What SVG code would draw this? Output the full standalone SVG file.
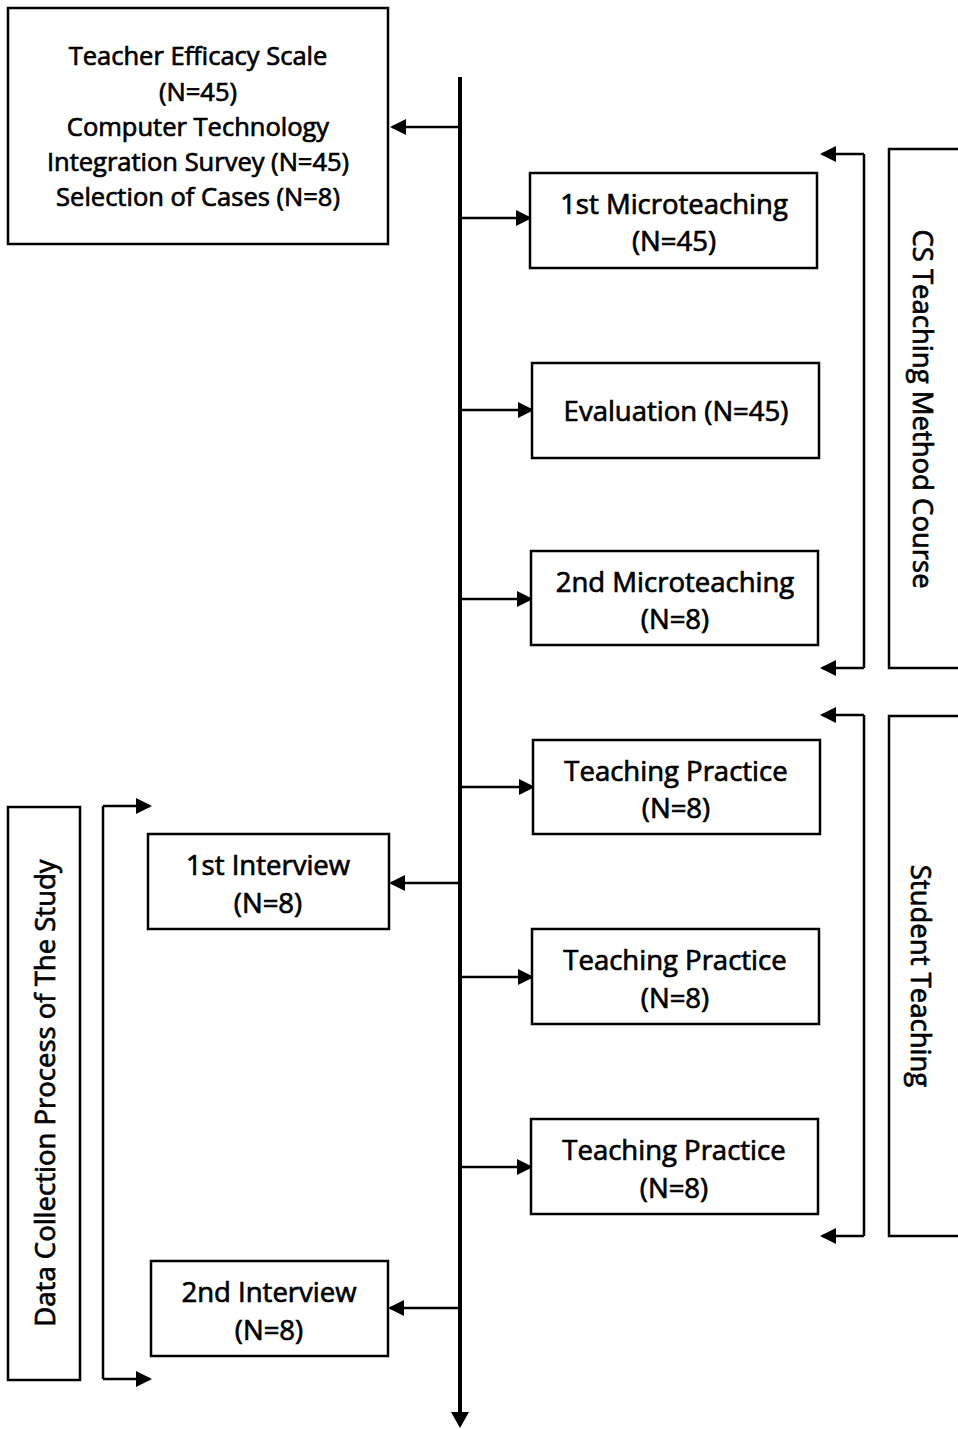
<svg xmlns="http://www.w3.org/2000/svg" width="958" height="1429" viewBox="0 0 958 1429">
<style>
.box{fill:#fff;stroke:#000;stroke-width:2.5}
.ln{fill:none;stroke:#000;stroke-width:2.5}
.main{fill:none;stroke:#000;stroke-width:4}
text{font-family:"Open Sans","Liberation Sans",sans-serif;font-size:27.5px;fill:#000;text-anchor:middle;stroke:#000;stroke-width:0.7}
.sm{font-size:25.5px}
</style>
<defs>
<marker id="ahb" markerWidth="16" markerHeight="16" refX="14" refY="8" orient="auto" markerUnits="userSpaceOnUse" viewBox="0 0 16 16">
<path d="M0,0 L16,8 L0,16 z" fill="#000"/>
</marker>
</defs>
<g id="connectors">
<line class="main" x1="460" y1="77" x2="460" y2="1412"/>
<path d="M451,1412 L469,1412 L460,1428 z" fill="#000"/>
<line class="ln" x1="460" y1="127" x2="392" y2="127" marker-end="url(#ahb)"/>
<line class="ln" x1="460" y1="218" x2="530" y2="218" marker-end="url(#ahb)"/>
<line class="ln" x1="460" y1="410" x2="532" y2="410" marker-end="url(#ahb)"/>
<line class="ln" x1="460" y1="599" x2="531" y2="599" marker-end="url(#ahb)"/>
<line class="ln" x1="460" y1="787" x2="533" y2="787" marker-end="url(#ahb)"/>
<line class="ln" x1="460" y1="977" x2="532" y2="977" marker-end="url(#ahb)"/>
<line class="ln" x1="460" y1="1167" x2="531" y2="1167" marker-end="url(#ahb)"/>
<line class="ln" x1="460" y1="883" x2="391" y2="883" marker-end="url(#ahb)"/>
<line class="ln" x1="460" y1="1308" x2="390" y2="1308" marker-end="url(#ahb)"/>
<path class="ln" d="M864,154 L864,668"/>
<line class="ln" x1="864" y1="154" x2="822" y2="154" marker-end="url(#ahb)"/>
<line class="ln" x1="864" y1="668" x2="822" y2="668" marker-end="url(#ahb)"/>
<path class="ln" d="M864,715 L864,1236"/>
<line class="ln" x1="864" y1="715" x2="822" y2="715" marker-end="url(#ahb)"/>
<line class="ln" x1="864" y1="1236" x2="822" y2="1236" marker-end="url(#ahb)"/>
<path class="ln" d="M103,806 L103,1379"/>
<line class="ln" x1="103" y1="806" x2="150" y2="806" marker-end="url(#ahb)"/>
<line class="ln" x1="103" y1="1379" x2="150" y2="1379" marker-end="url(#ahb)"/>
</g>
<g id="surveys">
<rect class="box" x="8" y="8" width="380" height="236"/>
<text class="sm" x="198" y="65">Teacher Efficacy Scale</text>
<text class="sm" x="198" y="101">(N=45)</text>
<text class="sm" x="198" y="136">Computer Technology</text>
<text class="sm" x="198" y="171">Integration Survey (N=45)</text>
<text class="sm" x="198" y="206">Selection of Cases (N=8)</text>
</g>
<g id="micro1">
<rect class="box" x="530" y="173" width="287" height="95"/>
<text x="674" y="214">1st Microteaching</text>
<text x="674" y="251">(N=45)</text>
</g>
<g id="evaluation">
<rect class="box" x="532" y="363" width="287" height="95"/>
<text x="676" y="421">Evaluation (N=45)</text>
</g>
<g id="micro2">
<rect class="box" x="531" y="551" width="287" height="94"/>
<text x="675" y="592">2nd Microteaching</text>
<text x="675" y="629">(N=8)</text>
</g>
<g id="practice1">
<rect class="box" x="533" y="740" width="287" height="94"/>
<text x="676" y="781">Teaching Practice</text>
<text x="676" y="818">(N=8)</text>
</g>
<g id="practice2">
<rect class="box" x="532" y="929" width="287" height="95"/>
<text x="675" y="970">Teaching Practice</text>
<text x="675" y="1008">(N=8)</text>
</g>
<g id="practice3">
<rect class="box" x="531" y="1119" width="287" height="95"/>
<text x="674" y="1160">Teaching Practice</text>
<text x="674" y="1198">(N=8)</text>
</g>
<g id="interview1">
<rect class="box" x="148" y="834" width="241" height="95"/>
<text x="268" y="875">1st Interview</text>
<text x="268" y="913">(N=8)</text>
</g>
<g id="interview2">
<rect class="box" x="151" y="1261" width="237" height="95"/>
<text x="269" y="1302">2nd Interview</text>
<text x="269" y="1340">(N=8)</text>
</g>
<g id="cs-course">
<rect class="box" x="889" y="149" width="75" height="519"/>
<text transform="translate(913,409) rotate(90)" x="0" y="0">CS Teaching Method Course</text>
</g>
<g id="student-teaching">
<rect class="box" x="889" y="716" width="75" height="520"/>
<text transform="translate(911,976) rotate(90)" x="0" y="0">Student Teaching</text>
</g>
<g id="data-collection">
<rect class="box" x="8" y="807" width="72" height="573"/>
<text transform="translate(55,1093) rotate(-90)" x="0" y="0">Data Collection Process of The Study</text>
</g>
</svg>
